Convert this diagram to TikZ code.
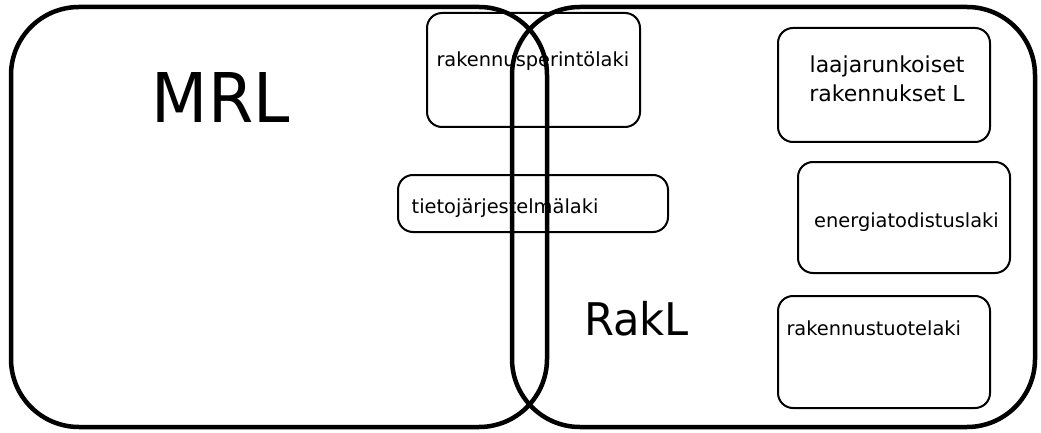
\documentclass[tikz,border=0pt]{standalone}
\usepackage{fontspec}
\setmainfont{DejaVu Sans}
\begin{document}
\begin{tikzpicture}[x=1pt,y=-1pt,
  bigbox/.style={draw=black, line width=4.5pt, rounded corners=68pt, inner sep=0pt, outer sep=0pt},
  lawbox/.style={draw=black, line width=2pt, rounded corners=15pt, inner sep=0pt, outer sep=0pt},
  lbl/.style={inner sep=0pt, anchor=base west, font=\fontsize{19.4}{23}\selectfont},
  lbltwo/.style={inner sep=0pt, anchor=base, font=\fontsize{22}{29}\selectfont},
  biglbl/.style={inner sep=0pt, anchor=base west}]
\useasboundingbox[fill=white] (0,0) rectangle (1041,433);

% law boxes
\node[lawbox, minimum width=213pt, minimum height=114pt] (rp) at (533.5,70) {};
\node[lawbox, minimum width=270pt, minimum height=57pt] (tj) at (533,203.5) {};
\node[lawbox, minimum width=212pt, minimum height=114pt] (lr) at (884,85) {};
\node[lawbox, minimum width=212pt, minimum height=111pt] (en) at (904,217.5) {};
\node[lawbox, minimum width=212pt, minimum height=112pt] (rt) at (884,352) {};

% labels
\node[lbl] (rpt) at (436.3,67) {rakennusperintölaki};
\node[lbl] (tjt) at (411.5,213) {tietojärjestelmälaki};
\node[lbltwo] (lrt1) at (887,73) {laajarunkoiset};
\node[lbltwo] (lrt2) at (887,102) {rakennukset L};
\node[lbl] (ent) at (814,227.5) {energiatodistuslaki};
\node[lbl] (rtt) at (786.3,335) {rakennustuotelaki};

\node[biglbl, font=\fontsize{68.6}{80}\selectfont] (mrlt) at (151.6,123) {\scalebox{0.95}[1]{MRL}};
\node[biglbl, font=\fontsize{45}{54}\selectfont] (raklt) at (583.8,335) {\scalebox{0.96}[1]{RakL}};

% big sets
\node[bigbox, minimum width=536pt, minimum height=420pt] (mrl) at (279,217) {};
\node[bigbox, minimum width=523pt, minimum height=420pt] (rakl) at (773.5,217) {};
\end{tikzpicture}
\end{document}
